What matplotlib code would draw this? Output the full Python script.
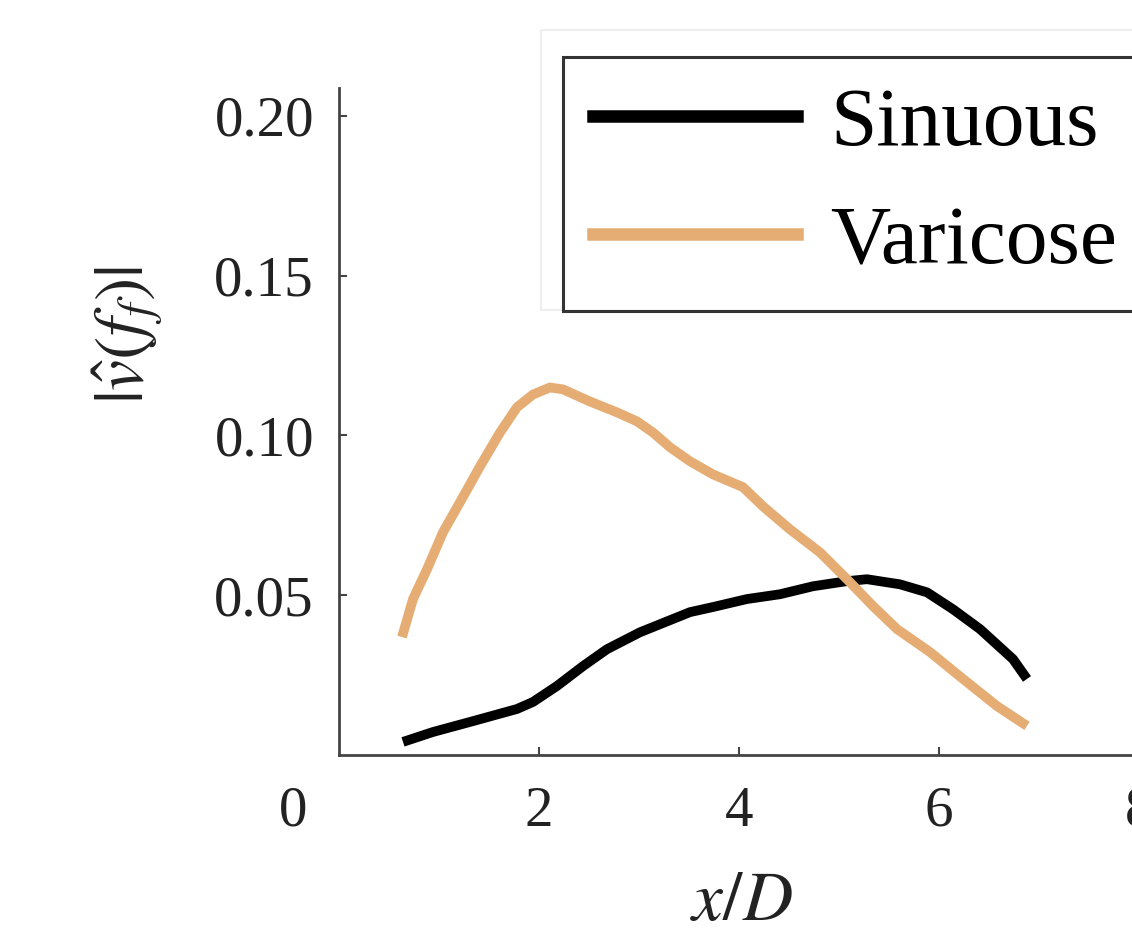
import matplotlib
matplotlib.use("Agg")
import matplotlib.pyplot as plt
from matplotlib.lines import Line2D
from matplotlib.patches import Rectangle

plt.rcParams["font.family"] = ["Liberation Serif", "DejaVu Serif"]
plt.rcParams["mathtext.fontset"] = "stix"

# values
x_sinuous = [0.64, 0.94, 1.34, 1.78, 1.94, 2.18, 2.44, 2.68, 3.01, 3.51, 3.74, 4.08,
             4.41, 4.74, 5.08, 5.28, 5.61, 5.88, 6.14, 6.41, 6.74, 6.88]
y_sinuous = [0.0041, 0.0072, 0.0106, 0.0144, 0.0166, 0.0216, 0.0278, 0.0331, 0.0384,
             0.0447, 0.0463, 0.0488, 0.0503, 0.0528, 0.0544, 0.0550, 0.0534, 0.0509,
             0.0456, 0.0394, 0.0300, 0.0238]

x_varicose = [0.63, 0.74, 0.88, 1.04, 1.21, 1.41, 1.61, 1.78, 1.94, 2.11, 2.24, 2.51,
              2.78, 2.98, 3.14, 3.31, 3.51, 3.74, 4.04, 4.24, 4.51, 4.81, 5.08, 5.34,
              5.58, 5.91, 6.24, 6.58, 6.88]
y_varicose = [0.0369, 0.0488, 0.0581, 0.0697, 0.0791, 0.0903, 0.1009, 0.1088, 0.1128,
              0.1150, 0.1144, 0.1106, 0.1072, 0.1044, 0.1009, 0.0963, 0.0919, 0.0878,
              0.0838, 0.0778, 0.0706, 0.0634, 0.0550, 0.0466, 0.0394, 0.0322, 0.0238,
              0.0153, 0.0091]

x_ticks = [2, 4, 6, 8]
y_ticks = [0.05, 0.10, 0.15, 0.20]
labels = ["Sinuous", "Varicose"]
colors = ["black", "#E5AD74"]

W, H = 1132, 934
fig = plt.figure(figsize=(W / 100, H / 100), dpi=100)
# axes runs off the right edge, as in the (cropped) reference
ax = fig.add_axes([339 / W, 1 - 755 / H, 850 / W, 667 / H])

ax.plot(x_sinuous, y_sinuous, color=colors[0], lw=7, solid_capstyle="butt")
ax.plot(x_varicose, y_varicose, color=colors[1], lw=7, solid_capstyle="butt")

ax.set_xlim(0, 8.5)
ax.set_ylim(0, 0.2087)
ax.set_xticks(x_ticks)
ax.set_xticklabels([str(t) for t in x_ticks])
ax.set_yticks(y_ticks)
ax.set_yticklabels([f"{t:.2f}" for t in y_ticks])

for side in ["top", "right"]:
    ax.spines[side].set_visible(False)
for side in ["left", "bottom"]:
    ax.spines[side].set_color("#444444")
    ax.spines[side].set_linewidth(2)

ax.tick_params(direction="in", length=6, width=1.5, color="#444444",
               labelsize=41, labelcolor="#222222")
ax.tick_params(axis="x", pad=22)
ax.tick_params(axis="y", pad=18)

# "0" sits left of the corner, not under it
ax.annotate("0", xy=(0, 0), xycoords=("data", "axes fraction"),
            xytext=(-33, -22), textcoords="offset points",
            ha="center", va="top", fontsize=41, color="#222222")

ax.set_xlabel(r"$x/D$", fontsize=50, color="#222222")
ax.xaxis.set_label_coords(0.473, -0.175)
ax.set_ylabel(r"$|\hat{v}(f_f)|$", fontsize=50, color="#222222")
ax.yaxis.set_label_coords(-0.205, 0.63)

# faint backdrop behind the legend
fig.patches.append(Rectangle((541 / W, 1 - 310 / H), 0.6, 280 / H,
                             transform=fig.transFigure, facecolor="white",
                             edgecolor="#eeeeee", lw=1.5, zorder=0))

handles = [Line2D([], [], color=c, lw=9) for c in colors]
leg = fig.legend(handles, labels, loc="upper left",
                 bbox_to_anchor=(563 / W, 1 - 57 / H),
                 fontsize=60, frameon=True, fancybox=False,
                 handlelength=2.45, handletextpad=0.4, borderpad=0.36,
                 labelspacing=0.5, borderaxespad=0)
leg.get_frame().set_edgecolor("black")
leg.get_frame().set_linewidth(2.2)

fig.savefig("out.png", dpi=100)
